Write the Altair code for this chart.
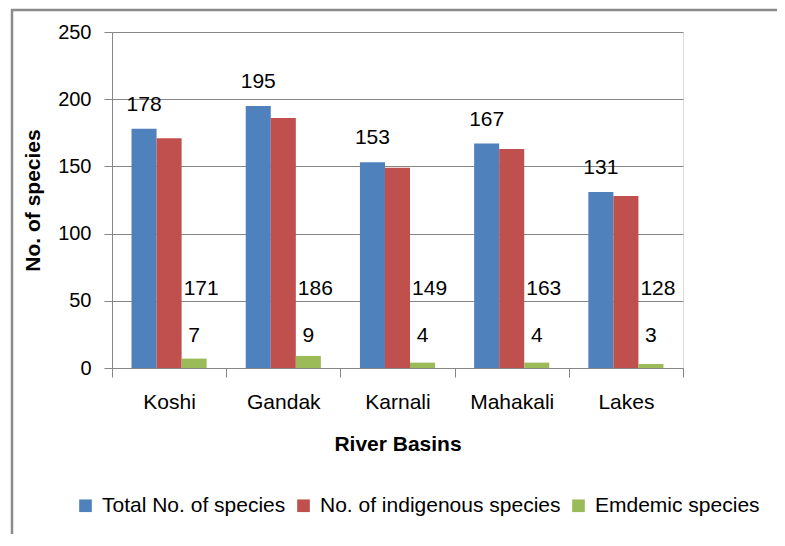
import altair as alt
import pandas as pd

basins = ["Koshi", "Gandak", "Karnali", "Mahakali", "Lakes"]
series_names = ["Total No. of species", "No. of indigenous species", "Emdemic species"]
total_species = [178, 195, 153, 167, 131]
indigenous_species = [171, 186, 149, 163, 128]
endemic_species = [7, 9, 4, 4, 3]
colors = ["#4F81BD", "#C0504D", "#9BBB59"]

rows = []
for i, b in enumerate(basins):
    for s, vals in zip(series_names, [total_species, indigenous_species, endemic_species]):
        rows.append({"basin": b, "series": s, "value": vals[i]})
df = pd.DataFrame(rows)

FONT = "Liberation Sans"
GRAY = "#868686"

x_enc = alt.X("basin:N", sort=basins,
              scale=alt.Scale(paddingInner=0, paddingOuter=0),
              axis=alt.Axis(title="River Basins", tickBand="extent", labelAngle=0,
                            labelFontSize=21, labelFont=FONT, labelColor="#000000",
                            labelPadding=14, tickSize=9, tickColor=GRAY, domainColor=GRAY,
                            titleFont=FONT, titleFontSize=21, titleFontWeight="bold",
                            titleColor="#000000", titleY=76, titleBaseline="middle",
                            grid=False))
xoff_scale = alt.Scale(domain=series_names, paddingOuter=0.78, paddingInner=0)
y_scale = alt.Scale(domain=[0, 250], nice=False)

bars = alt.Chart(df).mark_bar().encode(
    x=x_enc,
    xOffset=alt.XOffset("series:N", scale=xoff_scale),
    y=alt.Y("value:Q", scale=y_scale,
            axis=alt.Axis(title="No. of species", values=[0, 50, 100, 150, 200, 250],
                          labelFontSize=20, labelFont=FONT, labelColor="#000000",
                          labelPadding=13, tickSize=8, tickColor=GRAY, domainColor=GRAY,
                          gridColor=GRAY, grid=True,
                          titleFont=FONT, titleFontSize=21, titleFontWeight="bold",
                          titleColor="#000000", titleX=-79, titleY=168,
                          titleAngle=-90, titleBaseline="middle", titleAlign="center")),
    color=alt.Color("series:N", scale=alt.Scale(domain=series_names, range=colors),
                    legend=alt.Legend(title=None, orient="none", direction="horizontal",
                                      legendX=-37, legendY=463, symbolType="square",
                                      symbolSize=160, symbolStrokeWidth=0,
                                      labelFont=FONT, labelFontSize=21, labelColor="#000000",
                                      labelOffset=6, columnPadding=7, labelLimit=400)),
)

base_text = alt.Chart(df).mark_text(font=FONT, fontSize=21, color="#000000", align="center")

total_labels = base_text.mark_text(font=FONT, fontSize=21, color="#000000", dy=-24).encode(
    x=alt.X("basin:N", sort=basins),
    xOffset=alt.XOffset("series:N", scale=xoff_scale),
    y=alt.Y("value:Q"),
    text="value:Q",
).transform_filter(alt.datum.series == series_names[0])

indig_labels = base_text.mark_text(font=FONT, fontSize=21, color="#000000", dx=7).encode(
    x=alt.X("basin:N", sort=basins),
    xOffset=alt.XOffset("anchor:N", scale=xoff_scale),
    y=alt.datum(58.7),
    text="value:Q",
).transform_filter(alt.datum.series == series_names[1]).transform_calculate(
    anchor="'" + series_names[2] + "'")

endemic_labels = base_text.mark_text(font=FONT, fontSize=21, color="#000000").encode(
    x=alt.X("basin:N", sort=basins),
    xOffset=alt.XOffset("series:N", scale=xoff_scale),
    y=alt.datum(24),
    text="value:Q",
).transform_filter(alt.datum.series == series_names[2])

frame = alt.Chart(pd.DataFrame({"k": [0]})).mark_rect(
    fill=None, stroke="#8c8c8c", strokeWidth=2.5, clip=False).encode(
    x=alt.value(-100), x2=alt.value(669), y=alt.value(-22), y2=alt.value(540))

chart = alt.layer(frame, bars, total_labels, indig_labels, endemic_labels).properties(
    width=571, height=336,
    autosize=alt.AutoSizeParams(type="none"),
    padding={"left": 104, "top": 24, "right": 94, "bottom": 166},
).configure_view(stroke=None).configure(background="white")

chart.save("out.html", embed_options={"renderer": "svg", "actions": False})
